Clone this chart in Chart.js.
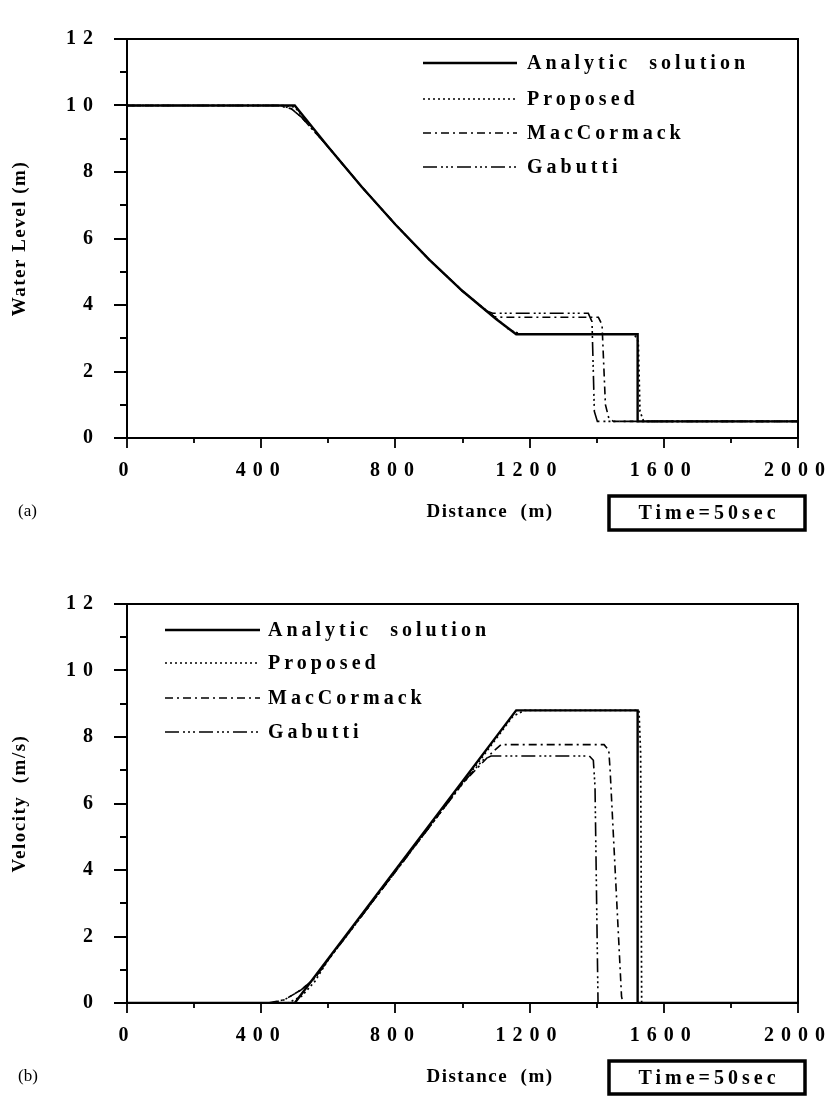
<!DOCTYPE html>
<html>
<head>
<meta charset="utf-8">
<script src="https://cdn.jsdelivr.net/npm/chart.js@4.4.0/dist/chart.umd.min.js"></script>
<style>
  body { margin: 0; background: #fff; }
  canvas { position: absolute; left: 0; }
  #levelChart { top: 0; }
  #velocityChart { top: 565px; }
</style>
</head>
<body>
<canvas id="levelChart" width="839" height="548"></canvas>
<canvas id="velocityChart" width="839" height="531"></canvas>
<script>
// ===========================
// DATA (distance m, value)
// ===========================

let SERIES_NAMES = ["Analytic  solution", "Proposed", "MacCormack", "Gabutti"];
let TIME_LABEL = "Time=50sec";

// panel (a) : water level (m)
let levelAnalytic = [[0,10],[500,10],[600,8.75],[700,7.55],[800,6.42],[900,5.37],[1000,4.42],[1100,3.58],[1160,3.12],[1522,3.12],[1522,0.5],[2000,0.5]];
let levelProposed = [[0,10],[470,10],[500,9.95],[530,9.6],[600,8.75],[700,7.55],[800,6.42],[900,5.37],[1000,4.42],[1100,3.6],[1140,3.25],[1175,3.12],[1512,3.12],[1524,2.9],[1529,0.8],[1540,0.5],[2000,0.5]];
let levelMacCormack = [[0,10],[450,10],[490,9.9],[520,9.65],[600,8.75],[700,7.55],[800,6.42],[900,5.37],[1000,4.42],[1070,3.83],[1095,3.65],[1120,3.63],[1405,3.63],[1416,3.4],[1426,1.0],[1436,0.6],[1450,0.5],[2000,0.5]];
let levelGabutti = [[0,10],[460,10],[490,9.9],[520,9.65],[600,8.75],[700,7.55],[800,6.42],[900,5.37],[1000,4.42],[1070,3.83],[1090,3.75],[1375,3.75],[1386,3.5],[1393,0.8],[1402,0.5],[2000,0.5]];

// panel (b) : velocity (m/s)
let velAnalytic = [[0,0],[500,0],[1160,8.8],[1522,8.8],[1522,0],[2000,0]];
let velProposed = [[0,0],[480,0],[520,0.2],[560,0.65],[600,1.3],[800,3.95],[1000,6.6],[1130,8.35],[1150,8.62],[1185,8.8],[1526,8.8],[1531,7.5],[1534,0],[2000,0]];
let velMacCormack = [[0,0],[430,0],[470,0.1],[520,0.4],[560,0.75],[600,1.3],[800,3.95],[1000,6.6],[1090,7.55],[1115,7.77],[1422,7.77],[1436,7.6],[1440,7.0],[1474,0.2],[1478,0],[2000,0]];
let velGabutti = [[0,0],[420,0],[470,0.1],[520,0.4],[560,0.75],[600,1.3],[800,3.95],[1000,6.6],[1060,7.3],[1085,7.43],[1378,7.43],[1390,7.3],[1395,6.5],[1404,0],[2000,0]];

// axis ticks
let X_MIN = 0, X_MAX = 2000, X_STEP = 200, X_LABEL_STEP = 400;
let Y_MIN = 0, Y_MAX = 12, Y_STEP = 1, Y_LABEL_STEP = 2;

// ===========================
// STYLE
// ===========================
const SERIF = '"Liberation Serif", "Times New Roman", serif';
const LINE_STYLES = [
  { borderWidth: 2.4, borderDash: [] },
  { borderWidth: 1.7, borderDash: [2, 3] },
  { borderWidth: 1.6, borderDash: [8, 4, 2, 4] },
  { borderWidth: 1.6, borderDash: [14, 4, 2, 3, 2, 3, 2, 4] }
];

function toPoints(arr) {
  return arr.map(p => ({ x: p[0], y: p[1] }));
}

function makeDatasets(seriesList) {
  return seriesList.map((s, i) => ({
    label: SERIES_NAMES[i],
    data: toPoints(s),
    borderColor: "#000",
    borderWidth: LINE_STYLES[i].borderWidth,
    borderDash: LINE_STYLES[i].borderDash,
    pointRadius: 0,
    tension: 0,
    fill: false
  }));
}

// frame, tick marks, titles, legend and time box
const decorPlugin = {
  id: "decor",
  beforeDraw(chart) {
    chart.ctx.letterSpacing = "7px";
  },
  afterDraw(chart, args, o) {
    const ctx = chart.ctx;
    const { left, right, top, bottom } = chart.chartArea;
    const xs = chart.scales.x, ys = chart.scales.y;
    ctx.save();
    ctx.letterSpacing = "0px";
    ctx.strokeStyle = "#000";
    ctx.fillStyle = "#000";
    ctx.setLineDash([]);
    ctx.lineWidth = 2;
    ctx.strokeRect(left, top, right - left, bottom - top);

    ctx.lineWidth = 1.8;
    ctx.beginPath();
    xs.ticks.forEach(t => {
      const px = Math.round(xs.getPixelForValue(t.value));
      const len = t.value % X_LABEL_STEP === 0 ? 10 : 5;
      ctx.moveTo(px, bottom);
      ctx.lineTo(px, bottom + len);
    });
    ys.ticks.forEach(t => {
      const py = Math.round(ys.getPixelForValue(t.value));
      const len = t.value % Y_LABEL_STEP === 0 ? 13 : 7;
      ctx.moveTo(left - len, py);
      ctx.lineTo(left, py);
    });
    ctx.stroke();

    // axis titles
    ctx.font = "bold 19px " + SERIF;
    ctx.letterSpacing = "1.5px";
    ctx.textAlign = "center";
    ctx.textBaseline = "middle";
    ctx.fillText(o.xTitle, o.xTitleX, o.xTitleY);
    ctx.save();
    ctx.translate(o.yTitleX, (top + bottom) / 2);
    ctx.rotate(-Math.PI / 2);
    ctx.fillText(o.yTitle, 0, 0);
    ctx.restore();

    // panel tag
    ctx.font = "17px " + SERIF;
    ctx.letterSpacing = "0px";
    ctx.textAlign = "left";
    ctx.fillText(o.tag, 18, o.xTitleY);

    // time box
    const b = o.timeBox;
    ctx.lineWidth = 3.5;
    ctx.strokeRect(b.x, b.y, b.w, b.h);
    ctx.font = "bold 20px " + SERIF;
    ctx.letterSpacing = "4px";
    ctx.textAlign = "center";
    ctx.fillText(TIME_LABEL, b.x + b.w / 2 + 2, b.y + b.h / 2 + 1);

    // legend
    const L = o.legend;
    ctx.textAlign = "left";
    ctx.letterSpacing = "4px";
    chart.data.datasets.forEach((ds, i) => {
      const y = L.rows[i];
      ctx.lineWidth = ds.borderWidth;
      ctx.setLineDash(ds.borderDash || []);
      ctx.beginPath();
      ctx.moveTo(L.x0, y);
      ctx.lineTo(L.x1, y);
      ctx.stroke();
      ctx.setLineDash([]);
      ctx.fillText(ds.label, L.tx, y + 1);
    });
    ctx.restore();
  }
};

function makeChart(canvasId, datasets, o) {
  const ctx = document.getElementById(canvasId).getContext("2d");
  const canvasH = document.getElementById(canvasId).height;
  const tickFont = { family: SERIF, size: 20, weight: "bold" };
  return new Chart(ctx, {
    type: "line",
    data: { datasets: datasets },
    plugins: [decorPlugin],
    options: {
      responsive: false,
      animation: false,
      events: [],
      layout: { padding: { left: 0, top: 13, right: 36, bottom: 0 } },
      plugins: {
        legend: { display: false },
        tooltip: { enabled: false },
        decor: o
      },
      scales: {
        x: {
          type: "linear",
          min: X_MIN,
          max: X_MAX,
          grid: { display: false, drawTicks: false },
          border: { display: false },
          ticks: {
            stepSize: X_STEP,
            autoSkip: false,
            maxRotation: 0,
            padding: 21,
            color: "#000",
            font: tickFont,
            callback: v => (v % X_LABEL_STEP === 0 ? String(v) : "")
          },
          afterFit: s => { s.height = canvasH - 438; }
        },
        y: {
          min: Y_MIN,
          max: Y_MAX,
          grid: { display: false, drawTicks: false },
          border: { display: false },
          ticks: {
            stepSize: Y_STEP,
            autoSkip: false,
            padding: 27,
            color: "#000",
            font: tickFont,
            callback: v => (v % Y_LABEL_STEP === 0 ? String(v) : "")
          },
          afterFit: s => { s.width = 127; }
        }
      }
    }
  });
}

makeChart("levelChart", makeDatasets([levelAnalytic, levelProposed, levelMacCormack, levelGabutti]), {
  xTitle: "Distance  (m)",
  xTitleX: 490,
  xTitleY: 512,
  yTitle: "Water Level (m)",
  yTitleX: 20,
  tag: "(a)",
  timeBox: { x: 609, y: 496, w: 196, h: 34 },
  legend: { x0: 423, x1: 517, tx: 527, rows: [63, 99, 133, 167] }
});

makeChart("velocityChart", makeDatasets([velAnalytic, velProposed, velMacCormack, velGabutti]), {
  xTitle: "Distance  (m)",
  xTitleX: 490,
  xTitleY: 512,
  yTitle: "Velocity  (m/s)",
  yTitleX: 20,
  tag: "(b)",
  timeBox: { x: 609, y: 496, w: 196, h: 33 },
  legend: { x0: 165, x1: 260, tx: 268, rows: [65, 98, 133, 167] }
});
</script>
</body>
</html>
